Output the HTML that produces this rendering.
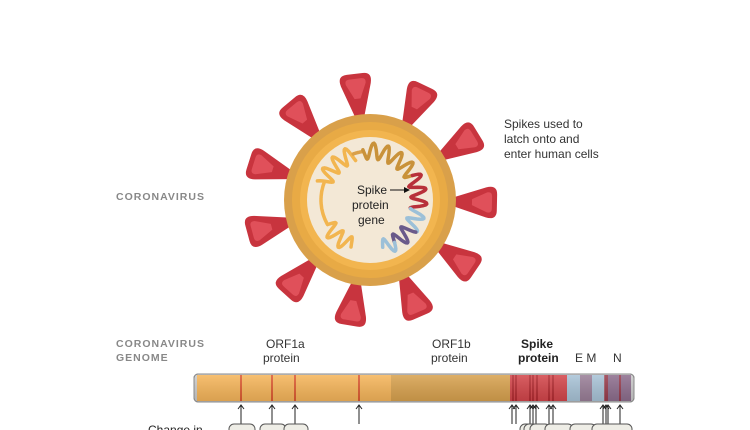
<!DOCTYPE html>
<html><head><meta charset="utf-8"><style>
body{margin:0;background:#fff;}
svg{display:block;font-family:"Liberation Sans",sans-serif;}
</style></head><body>
<svg id="s" width="750" height="430" viewBox="0 0 750 430" xmlns="http://www.w3.org/2000/svg">
<defs>
<linearGradient id="bar" x1="0" y1="0" x2="0" y2="1">
<stop offset="0" stop-color="#fff" stop-opacity="0.15"/>
<stop offset="1" stop-color="#000" stop-opacity="0.12"/>
</linearGradient>
</defs>
<g id="spikes"></g>
<circle cx="370" cy="200" r="86" fill="#d9a04a"/>
<circle cx="370" cy="200" r="78" fill="#e8aa45"/>
<circle cx="370" cy="200" r="70" fill="#f2b54f"/>
<circle cx="370" cy="200" r="63" fill="#f3e8d6"/>
<g id="helix" fill="none" stroke-width="3.5" stroke-linecap="round" stroke-linejoin="round"></g>
<text x="357" y="194" font-size="12" fill="#222">Spike</text>
<text x="352" y="209" font-size="12" fill="#222">protein</text>
<text x="358" y="224" font-size="12" fill="#222">gene</text>
<line x1="390" y1="190" x2="404" y2="190" stroke="#111" stroke-width="1"/>
<path d="M404 187 L410 190 L404 193Z" fill="#111"/>
<text font-size="12" fill="#333"><tspan x="504" y="128">Spikes used to</tspan><tspan x="504" y="143">latch onto and</tspan><tspan x="504" y="158">enter human cells</tspan></text>
<text x="116" y="200" font-size="10.5" font-weight="bold" fill="#888" letter-spacing="1">CORONAVIRUS</text>
<text x="116" y="347" font-size="10.5" font-weight="bold" fill="#888" letter-spacing="1">CORONAVIRUS</text>
<text x="116" y="361" font-size="10.5" font-weight="bold" fill="#888" letter-spacing="1">GENOME</text>
<text x="266" y="348" font-size="12" fill="#333">ORF1a</text>
<text x="263" y="362" font-size="12" fill="#333">protein</text>
<text x="432" y="348" font-size="12" fill="#333">ORF1b</text>
<text x="431" y="362" font-size="12" fill="#333">protein</text>
<text x="521" y="348" font-size="12" font-weight="bold" fill="#222">Spike</text>
<text x="518" y="362" font-size="12" font-weight="bold" fill="#222">protein</text>
<text x="575" y="362" font-size="12" fill="#333">E M</text>
<text x="613" y="362" font-size="12" fill="#333">N</text>
<rect x="194" y="374" width="440" height="28" rx="4" fill="#ccc" stroke="#888"/>
<rect x="197" y="375" width="194" height="26" fill="#f7b65a"/>
<rect x="391" y="375" width="119" height="26" fill="#d9a24e"/>
<rect x="510" y="375" width="57" height="26" fill="#d4454a"/>
<rect x="567" y="375" width="64" height="26" fill="#a9c4d8"/>
<rect x="580" y="375" width="12" height="26" fill="#9a7f98"/>
<rect x="605" y="375" width="26" height="26" fill="#8e6e8e"/>
<g stroke="#d02a1a" stroke-width="1.3">
<line x1="241" y1="375" x2="241" y2="401"/><line x1="272" y1="375" x2="272" y2="401"/>
<line x1="295" y1="375" x2="295" y2="401"/><line x1="359" y1="375" x2="359" y2="401"/>
</g>
<g stroke="#a01a20" stroke-width="1.2">
<line x1="513" y1="375" x2="513" y2="401"/><line x1="516" y1="375" x2="516" y2="401"/>
<line x1="530" y1="375" x2="530" y2="401"/><line x1="533" y1="375" x2="533" y2="401"/>
<line x1="537" y1="375" x2="537" y2="401"/><line x1="549" y1="375" x2="549" y2="401"/>
<line x1="553" y1="375" x2="553" y2="401"/><line x1="605" y1="375" x2="605" y2="401"/>
<line x1="607" y1="375" x2="607" y2="401"/><line x1="620" y1="375" x2="620" y2="401"/>
</g>
<rect x="194" y="374" width="440" height="28" rx="4" fill="url(#bar)" stroke="#888"/>
<g id="arrows" stroke="#222" stroke-width="1" fill="none"></g>
<text x="148" y="434" font-size="12" fill="#222">Change in</text>
<g fill="#eeede6" stroke="#555">
<rect x="229" y="424" width="26" height="20" rx="5"/>
<rect x="260" y="424" width="26" height="20" rx="5"/>
<rect x="284" y="424" width="24" height="20" rx="5"/>
<rect x="520" y="424" width="20" height="20" rx="5"/>
<rect x="524" y="424" width="20" height="20" rx="5"/>
<rect x="530" y="424" width="20" height="20" rx="5"/>
<rect x="545" y="424" width="28" height="20" rx="5"/>
<rect x="570" y="424" width="26" height="20" rx="5"/>
<rect x="592" y="424" width="40" height="20" rx="5"/>
</g>
<script>
var ns="http://www.w3.org/2000/svg";
var sp=document.getElementById("spikes");
function mk(tag,attrs,parent){var e=document.createElementNS(ns,tag);for(var k in attrs)e.setAttribute(k,attrs[k]);parent.appendChild(e);return e;}
for(var i=0;i<11;i++){var a=-97+i*32.727;
var g=mk("g",{transform:"translate(370,200) rotate("+a+")"},sp);
mk("path",{d:"M82 -4 L116 -15 Q127 -18 127 -8 L127 8 Q127 18 116 15 L82 4Z",fill:"#c8343e"},g);
mk("path",{d:"M102 -3 L117 -10 Q122 -11 122 -6 L122 6 Q122 11 117 10 L102 3Z",fill:"#e0505a"},g);}
var h=document.getElementById("helix");
function seg(a0,a1,col,zig){var d="";var n=Math.round(Math.abs(a1-a0));
for(var k=0;k<=n;k++){var t=a0+(a1-a0)*k/n;var a=t*Math.PI/180;var r=49+(zig?8*Math.sin(t*2*Math.PI/15):0);
d+=(k?"L":"M")+(370+r*Math.cos(a)).toFixed(1)+" "+(200+r*Math.sin(a)).toFixed(1);}
mk("path",{d:d,stroke:col},h);}
seg(112,150,"#f2b54f",1);seg(150,200,"#f2b54f",0);seg(200,250,"#f2b54f",1);seg(250,262,"#d9a04a",0);seg(262,330,"#c9923a",1);
seg(330,372,"#b8303a",1);seg(372,395,"#9cc0d8",1);seg(395,420,"#6a5a8a",1);seg(420,435,"#9cc0d8",1);
var ar=document.getElementById("arrows");
[241,272,295,359,512,516,530,533,536,549,553,603,606,608,620].forEach(function(x){
mk("path",{d:"M"+x+" 424 L"+x+" 405 M"+(x-3)+" 409 L"+x+" 405 L"+(x+3)+" 409"},ar);});
</script>
</svg>
</body></html>
